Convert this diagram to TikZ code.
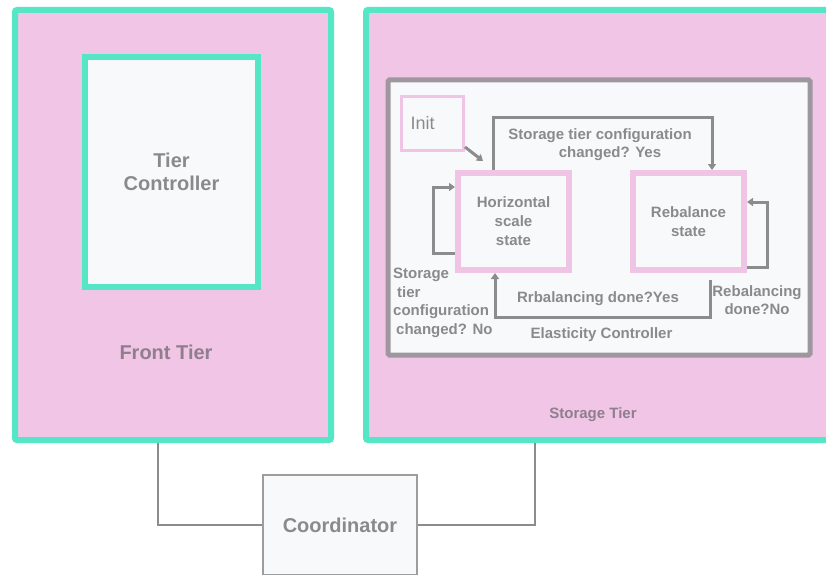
\documentclass[tikz,border=0pt]{standalone}
\usepackage{fontspec}
\setmainfont{Liberation Sans}
\usetikzlibrary{arrows.meta,calc}

\definecolor{tealedge}{HTML}{55E6C6}
\definecolor{tierfill}{HTML}{F0C5E5}
\definecolor{paper}{HTML}{F8F9FB}
\definecolor{wire}{HTML}{8C8C8C}
\definecolor{ecedge}{HTML}{9E989E}
\definecolor{stateedge}{HTML}{EFC4E4}
\definecolor{txt}{HTML}{8A8A8A}
\definecolor{tiertxt}{HTML}{8E7E8E}

\tikzset{
  tierbox/.style={draw=tealedge, fill=tierfill, line width=6pt, rounded corners=2pt,
    inner sep=0pt},
  ctrlbox/.style={draw=tealedge, fill=paper, line width=6pt, inner sep=0pt,
    font=\fontsize{20}{23}\selectfont\bfseries, text=txt, align=center},
  ecbox/.style={draw=ecedge, fill=paper, line width=5pt, rounded corners=1.5pt, inner sep=0pt},
  statebox/.style={draw=stateedge, fill=paper, line width=6pt, inner sep=0pt,
    font=\fontsize{15}{19}\selectfont\bfseries, text=txt, align=center},
  initbox/.style={draw=stateedge, fill=paper, line width=3pt, inner sep=0pt,
    font=\fontsize{18}{20}\selectfont, text=txt, align=left},
  coordbox/.style={draw=wire!85, fill=paper, line width=2pt, inner sep=0pt,
    font=\fontsize{20}{23}\selectfont\bfseries, text=txt},
  bigtext/.style={font=\fontsize{20}{23}\selectfont\bfseries, text=tiertxt},
  smalltext/.style={font=\fontsize{15}{18}\selectfont\bfseries, text=txt, align=center, inner sep=0pt},
  edgetext/.style={font=\fontsize{15}{18.5}\selectfont\bfseries, text=txt, inner sep=0pt},
  link/.style={draw=wire, line width=2.5pt},
  flow/.style={draw=wire, line width=3pt, -{Triangle[width=8pt,length=6pt]}},
}

\begin{document}
\begin{tikzpicture}[x=1pt,y=1pt]
  \useasboundingbox (0,0) rectangle (826,574);
  \fill[white] (0,0) rectangle (826,574);

  % coordinator and its links to both tiers
  \node[coordbox, minimum width=154pt, minimum height=100pt] (coord) at (340,49) {Coordinator};

  % tiers
  \node[tierbox, minimum width=316pt, minimum height=430pt] (front) at (173,349) {};
  \node[tierbox, minimum width=474pt, minimum height=430pt] (storage) at (603,349) {};

  \draw[link] ([xshift=-15pt]front.south) |- (coord.west);
  \draw[link] ([xshift=-68pt]storage.south) |- (coord.east);

  \node[ctrlbox, minimum width=173pt, minimum height=230pt] (tierctrl) at (171.5,402) {Tier\\Controller};
  \node[bigtext] (frontlbl) at (166,222) {Front Tier};
  \node[bigtext, font=\fontsize{15}{18}\selectfont\bfseries] (storagelbl) at (593,159.5) {Storage Tier};

  % elasticity controller state machine
  \node[ecbox, minimum width=422pt, minimum height=275pt] (ec) at (599,356.5) {};

  \node[initbox, minimum width=62pt, minimum height=54pt, text width=44pt] (init) at (432.5,450.5) {Init};
  \node[statebox, minimum width=111pt, minimum height=97pt] (hs) at (513.5,352.5)
    {\raisebox{-5pt}{\parbox{100pt}{\centering Horizontal\\scale\\state}}};
  \node[statebox, minimum width=111pt, minimum height=97pt] (rb) at (688.5,352.5)
    {\raisebox{-5pt}{\parbox{100pt}{\centering Rebalance\\state}}};

  \draw[flow] ([yshift=5pt]init.south east) -- ([shift={(28pt,9pt)}]hs.north west);
  \draw[flow] ([xshift=-20.5pt]hs.north) -- ++(0,52) -| ([xshift=23.5pt]rb.north);
  \draw[flow] ([yshift=-31.5pt]hs.west) -- ++(-22,0) |- ([yshift=34.5pt]hs.west);
  \draw[flow] ([yshift=-45.5pt]rb.east) -- ++(20,0) |- ([yshift=19.5pt]rb.east);
  \draw[flow] ([xshift=21.5pt,yshift=-7pt]rb.south) -- ++(0,-37) -| ([xshift=-18.5pt]hs.south);

  \node[smalltext] (yeslbl) at (600,429) {Storage tier configuration\\\hspace*{20pt}changed? Yes};
  \node[edgetext, align=left, anchor=west] (nolbl) at (393,271) {Storage\\\hspace*{4pt}tier\\configuration\\\hspace*{3pt}changed? No};
  \node[smalltext] (donelbl) at (598,275) {Rrbalancing done?Yes};
  \node[smalltext] (notdonelbl) at (757,274) {Rebalancing\\done?No};
  \node[smalltext] (eclbl) at (601.5,239) {Elasticity Controller};
\end{tikzpicture}
\end{document}
